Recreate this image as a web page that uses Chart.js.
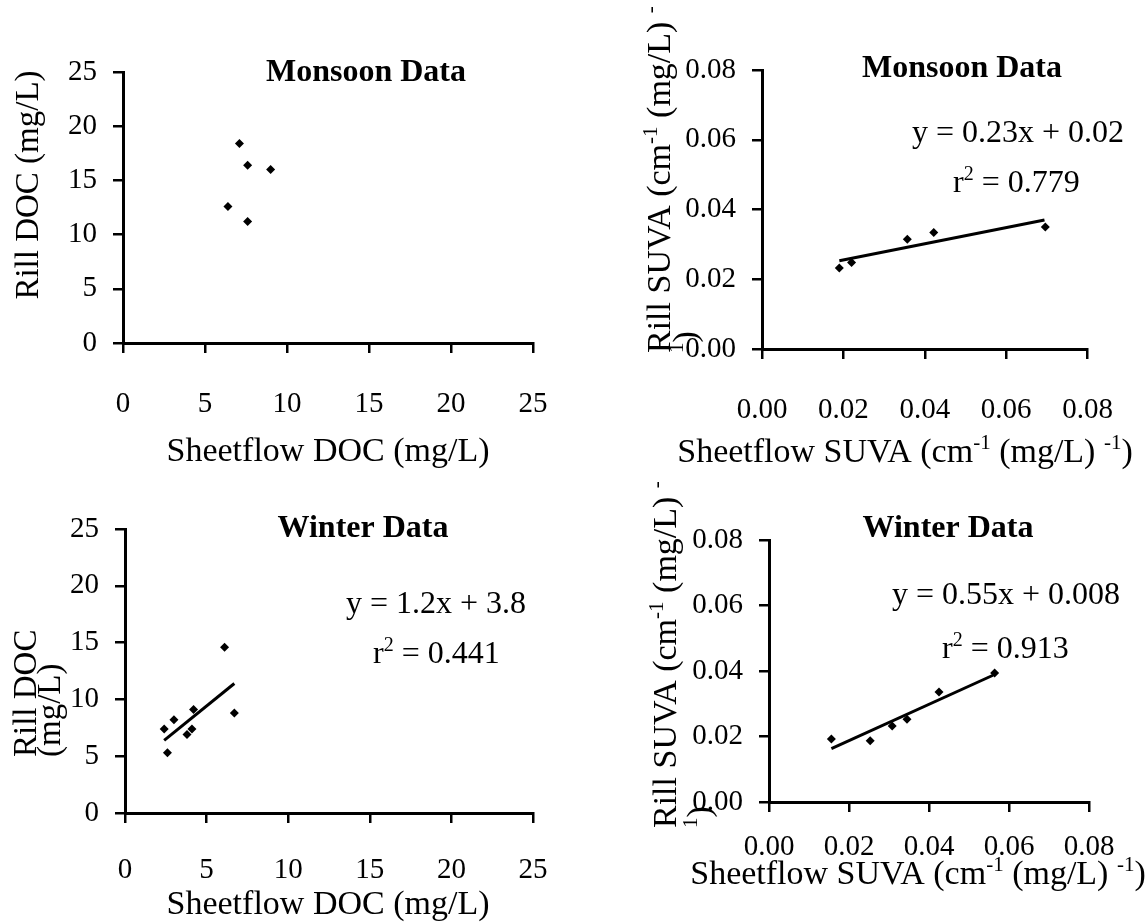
<!DOCTYPE html>
<html>
<head>
<meta charset="utf-8">
<script src="https://cdn.jsdelivr.net/npm/chart.js@4"></script>
<style>
html, body { margin: 0; padding: 0; background: #fff; }
#wrap { position: relative; width: 1147px; height: 923px; overflow: hidden; }
#wrap canvas { position: absolute; left: 0; top: 0; }
</style>
</head>
<body>
<div id="wrap">
  <canvas id="c1" width="1147" height="923"></canvas>
  <canvas id="c2" width="1147" height="923"></canvas>
  <canvas id="c3" width="1147" height="923"></canvas>
  <canvas id="c4" width="1147" height="923"></canvas>
</div>
<script>
// tick labels
const docTicks = [0, 5, 10, 15, 20, 25];
const suvaTicks = [0, 0.02, 0.04, 0.06, 0.08];

// monsoon DOC (no fit)
const monsoonDocX = [7.1, 7.6, 9.0, 6.4, 7.6];
const monsoonDocY = [18.4, 16.4, 16.0, 12.6, 11.2];

// monsoon SUVA + trendline ends
const monsoonSuvaX = [0.019, 0.022, 0.0357, 0.0422, 0.0696];
const monsoonSuvaY = [0.0232, 0.0248, 0.0315, 0.0334, 0.0350];
const monsoonSuvaFitX = [0.019, 0.0694];
const monsoonSuvaFitY = [0.0253, 0.0370];

// winter DOC + trendline ends
const winterDocX = [2.4, 3.0, 4.2, 3.8, 4.1, 2.6, 6.1, 6.7];
const winterDocY = [7.4, 8.2, 9.1, 6.9, 7.4, 5.3, 14.6, 8.8];
const winterDocFitX = [2.4, 6.7];
const winterDocFitY = [6.4, 11.4];

// winter SUVA + trendline ends
const winterSuvaX = [0.0156, 0.0253, 0.0308, 0.0345, 0.0425, 0.0564];
const winterSuvaY = [0.0192, 0.0187, 0.0232, 0.0253, 0.0336, 0.0394];
const winterSuvaFitX = [0.0156, 0.056];
const winterSuvaFitY = [0.0163, 0.0387];

const W = 1147, H = 923;
const FAM = "'Liberation Serif', 'Times New Roman', serif";

function pts(xs, ys) {
    return xs.map((x, i) => ({ x: x, y: ys[i] }));
}

// draws text made of normal + superscript pieces, optionally rotated
function drawRich(ctx, item) {
    const size = item.size || 33;
    const supSize = Math.round(size * 0.62);
    const bold = item.bold ? 'bold ' : '';
    const segs = item.segs.map(s => {
        const sup = !!s[1];
        ctx.font = bold + (sup ? supSize : size) + 'px ' + FAM;
        return { t: s[0], sup: sup, w: ctx.measureText(s[0]).width };
    });
    const total = segs.reduce((a, s) => a + s.w, 0);
    ctx.save();
    ctx.translate(item.x, item.y);
    if (item.rot) ctx.rotate(-Math.PI / 2);
    ctx.fillStyle = '#000';
    ctx.textAlign = 'left';
    ctx.textBaseline = 'alphabetic';
    let cx = item.align === 'left' ? 0 : (item.align === 'right' ? -total : -total / 2);
    segs.forEach(s => {
        ctx.font = bold + (s.sup ? supSize : size) + 'px ' + FAM;
        ctx.fillText(s.t, cx, s.sup ? -size * 0.38 : 0);
        cx += s.w;
    });
    ctx.restore();
}

function textPlugin(items) {
    return {
        id: 'texts',
        afterDraw(chart) {
            items.forEach(it => drawRich(chart.ctx, it));
        }
    };
}

function makeChart(id, box, ticks, fmt, datasets, items, labelPad) {
    const axisCommon = (tickVals) => ({
        type: 'linear',
        min: tickVals[0],
        max: tickVals[tickVals.length - 1],
        afterBuildTicks: (sc) => { sc.ticks = tickVals.map(v => ({ value: v })); },
        grid: { display: true, drawOnChartArea: false, drawTicks: true, tickLength: 10, color: '#000', lineWidth: 2.5 },
        border: { display: true, color: '#000', width: 3 },
        ticks: { color: '#000', font: { family: FAM, size: 29 }, callback: fmt, maxRotation: 0, autoSkip: false }
    });
    const xAxis = axisCommon(ticks);
    xAxis.position = 'bottom';
    xAxis.ticks.padding = labelPad;
    xAxis.afterFit = (sc) => { sc.height = H - box.b; };
    const yAxis = axisCommon(ticks);
    yAxis.position = 'left';
    yAxis.ticks.padding = 16;
    yAxis.afterFit = (sc) => { sc.width = box.l; };

    return new Chart(document.getElementById(id), {
        type: 'scatter',
        data: { datasets: datasets },
        options: {
            responsive: false,
            animation: false,
            devicePixelRatio: 1,
            layout: { padding: { left: 0, top: box.t, right: W - box.r, bottom: 0 } },
            plugins: { legend: { display: false }, tooltip: { enabled: false } },
            scales: { x: xAxis, y: yAxis }
        },
        plugins: [textPlugin(items)]
    });
}

function pointSet(xs, ys) {
    return {
        data: pts(xs, ys),
        pointStyle: 'rectRot',
        pointRadius: 4.5,
        backgroundColor: '#000',
        borderColor: '#000',
        borderWidth: 0,
        showLine: false
    };
}

function fitSet(xs, ys) {
    return {
        data: pts(xs, ys),
        showLine: true,
        pointRadius: 0,
        borderColor: '#000',
        borderWidth: 3
    };
}

const fmtDoc = (v) => String(v);
const fmtSuva = (v) => v.toFixed(2);

makeChart('c1', { l: 123, t: 72, r: 533, b: 343 }, docTicks, fmtDoc,
    [pointSet(monsoonDocX, monsoonDocY)],
    [
        { segs: [['Monsoon Data']], x: 366, y: 81, size: 32, bold: true },
        { segs: [['Rill DOC (mg/L)']], x: 38, y: 185, rot: true },
        { segs: [['Sheetflow DOC (mg/L)']], x: 328, y: 461, size: 34 }
    ], 34);

makeChart('c2', { l: 762, t: 70, r: 1092, b: 349 }, suvaTicks, fmtSuva,
    [fitSet(monsoonSuvaFitX, monsoonSuvaFitY), pointSet(monsoonSuvaX, monsoonSuvaY)],
    [
        { segs: [['Monsoon Data']], x: 962, y: 77, size: 32, bold: true },
        { segs: [['y = 0.23x + 0.02']], x: 912, y: 142, size: 32, align: 'left' },
        { segs: [['r'], ['2', 1], [' = 0.779']], x: 953, y: 192, size: 32, align: 'left' },
        { segs: [['Rill SUVA (cm'], ['-1', 1], [' (mg/L) '], ['-', 1]], x: 670, y: 353, size: 34, rot: true, align: 'left' },
        { segs: [['1', 1], [')']], x: 696, y: 353, size: 34, rot: true, align: 'left' },
        { segs: [['Sheetflow SUVA (cm'], ['-1', 1], [' (mg/L) '], ['-1', 1], [')']], x: 905, y: 462, size: 34 }
    ], 34);

makeChart('c3', { l: 125, t: 529, r: 533, b: 813 }, docTicks, fmtDoc,
    [fitSet(winterDocFitX, winterDocFitY), pointSet(winterDocX, winterDocY)],
    [
        { segs: [['Winter Data']], x: 363, y: 537, size: 32, bold: true },
        { segs: [['y = 1.2x + 3.8']], x: 346, y: 613, size: 32, align: 'left' },
        { segs: [['r'], ['2', 1], [' = 0.441']], x: 373, y: 663, size: 32, align: 'left' },
        { segs: [['Rill DOC']], x: 36, y: 757, rot: true, align: 'left' },
        { segs: [['(mg/L)']], x: 60, y: 757, rot: true, align: 'left' },
        { segs: [['Sheetflow DOC (mg/L)']], x: 328, y: 914, size: 34 }
    ], 30);

makeChart('c4', { l: 769, t: 540, r: 1089, b: 802 }, suvaTicks, fmtSuva,
    [fitSet(winterSuvaFitX, winterSuvaFitY), pointSet(winterSuvaX, winterSuvaY)],
    [
        { segs: [['Winter Data']], x: 948, y: 537, size: 32, bold: true },
        { segs: [['y = 0.55x + 0.008']], x: 892, y: 604, size: 32, align: 'left' },
        { segs: [['r'], ['2', 1], [' = 0.913']], x: 942, y: 658, size: 32, align: 'left' },
        { segs: [['Rill SUVA (cm'], ['-1', 1], [' (mg/L) '], ['-', 1]], x: 676, y: 828, size: 34, rot: true, align: 'left' },
        { segs: [['1', 1], [')']], x: 710, y: 828, size: 34, rot: true, align: 'left' },
        { segs: [['Sheetflow SUVA (cm'], ['-1', 1], [' (mg/L) '], ['-1', 1], [')']], x: 918, y: 884, size: 34 }
    ], 18);
</script>
</body>
</html>
